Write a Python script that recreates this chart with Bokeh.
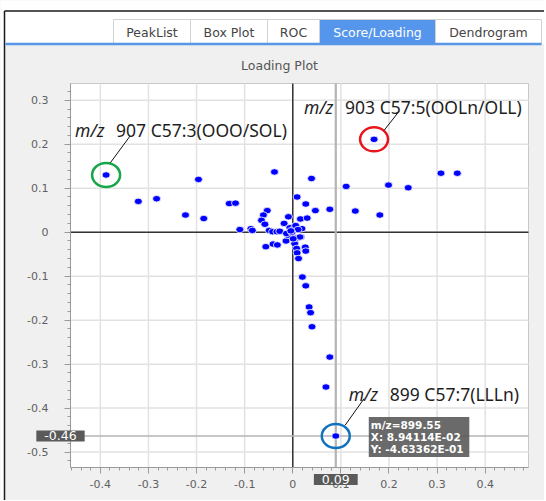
from bokeh.plotting import figure
from bokeh.models import Range1d, FixedTicker, Label, ColumnDataSource
from bokeh.embed import file_html
from bokeh.resources import INLINE
from bokeh.core.properties import value
import numpy as np

# ---------------- data ----------------
load_x = [-0.321, -0.283, -0.196, -0.223, -0.185, -0.132, -0.119, -0.110, -0.038, 0.039,
          0.111, 0.199, 0.240, 0.308, 0.342, 0.009, 0.027, 0.047, 0.077, 0.130,
          0.181, -0.053, -0.061, -0.065, -0.058, -0.087, -0.084, -0.009, -0.018, 0.016,
          0.030, 0.019, -0.049, -0.042, -0.033, -0.027, 0.017, -0.056, -0.041, -0.032,
          -0.014, 0.004, 0.026, 0.027, 0.008, 0.009, 0.012, 0.020, 0.027, 0.034,
          0.037, 0.040, 0.077, 0.069, -0.006, 0.001, 0.006, 0.011, -0.010, -0.013,
          0.008, 0.015, 0.001, -0.002, -0.004]
load_y = [0.070, 0.076, 0.120, 0.039, 0.031, 0.065, 0.066, 0.006, 0.137, 0.122,
          0.104, 0.107, 0.101, 0.134, 0.134, 0.080, 0.064, 0.049, 0.052, 0.048,
          0.039, 0.049, 0.039, 0.027, 0.018, 0.008, 0.004, 0.035, 0.020, 0.030,
          0.032, 0.008, 0.004, 0.001, 0.001, 0.002, -0.011, -0.033, -0.027, -0.029,
          -0.020, -0.026, -0.034, -0.043, -0.037, -0.047, -0.060, -0.102, -0.122, -0.170,
          -0.183, -0.215, -0.284, -0.352, 0.010, 0.006, 0.015, 0.006, -0.007, -0.003,
          -0.013, -0.011, -0.015, 0.000, 0.003]

hl_x = [-0.388, 0.169, 0.0894114]
hl_y = [0.130, 0.211, -0.463362]
hl_mz = ["907", "903", "899"]
hl_name = ["C57:3(OOO/SOL)", "C57:5(OOLn/OLL)", "C57:7(LLLn)"]
tooltip_mz = 899.55

x_ticks = [-0.4, -0.3, -0.2, -0.1, 0.0, 0.1, 0.2, 0.3, 0.4]
x_tick_labels = ["-0.4", "-0.3", "-0.2", "-0.1", "0", "0.1", "0.2", "0.3", "0.4"]
y_ticks = [-0.5, -0.4, -0.3, -0.2, -0.1, 0.0, 0.1, 0.2, 0.3]
y_tick_labels = ["-0.5", "-0.4", "-0.3", "-0.2", "-0.1", "0", "0.1", "0.2", "0.3"]

tab_names = ["PeakList", "Box Plot", "ROC", "Score/Loading", "Dendrogram"]
active_tab = "Score/Loading"
plot_title = "Loading Plot"

# ---------------- layout constants (page pixels) ----------------
X_START, X_END = -0.462, 0.490
Y_START, Y_END = -0.535, 0.338
CANVAS_L, CANVAS_T, CANVAS_W, CANVAS_H = 1, 0, 544, 500
PLOT_L, PLOT_R, PLOT_T, PLOT_B = 71, 529, 83, 467
SX = (PLOT_R - PLOT_L) / (X_END - X_START)
SY = (PLOT_B - PLOT_T) / (Y_END - Y_START)
TAB_EDGES = [114, 191, 268, 320, 436, 542]

FONT_TICK = "DejaVu Sans"
FONT_ANN = "Noto Sans"


def px2x(px):
    return X_START + (px - PLOT_L) / SX


def py2y(py):
    return Y_END - (py - PLOT_T) / SY


XL, XR = px2x(CANVAS_L), px2x(CANVAS_L + CANVAS_W)
YT, YB = py2y(CANVAS_T), py2y(CANVAS_T + CANVAS_H)

p = figure(width=CANVAS_W, height=CANVAS_H,
           x_range=Range1d(XL, XR), y_range=Range1d(YB, YT),
           output_backend="svg", toolbar_location=None,
           min_border=0, min_border_left=0, min_border_right=0,
           min_border_top=0, min_border_bottom=0,
           background_fill_color="#f0f0f0", border_fill_color="#f0f0f0",
           outline_line_color=None)
p.grid.visible = False

# ---------------- window frame and tabs ----------------
p.quad(left=[XL], right=[XR], top=[YT], bottom=[py2y(43.5)], fill_color="white", line_color=None)
p.quad(left=[XL], right=[px2x(5)], top=[YT], bottom=[YB], fill_color="white", line_color=None)
p.segment(x0=[px2x(5), px2x(5)], y0=[py2y(10.5), py2y(10.5)], x1=[XR, px2x(5)], y1=[py2y(10.5), YB],
          line_color="#1a1a1a", line_width=1.5)
lefts = [px2x(e) for e in TAB_EDGES[:-1]]
rights = [px2x(e) for e in TAB_EDGES[1:]]
fills = ["#5595ec" if t == active_tab else "white" for t in tab_names]
tcols = ["white" if t == active_tab else "#444444" for t in tab_names]
p.quad(left=lefts, right=rights, top=[py2y(19)] * 5, bottom=[py2y(43.5)] * 5,
       fill_color=fills, line_color="#d2d2d2", line_width=1)
p.text(x=[(a + b) / 2 for a, b in zip(lefts, rights)], y=[py2y(31.5)] * 5, text=tab_names,
       text_align="center", text_baseline="middle", text_color=tcols,
       text_font=value(FONT_TICK), text_font_size="12.5px")
p.segment(x0=[px2x(6)], y0=[py2y(43.5)], x1=[px2x(542)], y1=[py2y(43.5)],
          line_color="#5a96e8", line_width=2.5)

# title
p.add_layout(Label(x=px2x(280), y=py2y(65), text=plot_title,
                   text_font=FONT_TICK, text_font_size="12.5px", text_color="#555555",
                   text_align="center", text_baseline="middle"))

# ---------------- plot area ----------------
p.quad(left=[X_START], right=[X_END], top=[Y_END], bottom=[Y_START],
       fill_color="white", line_color="#c8c8c8", line_width=1)

# grid lines
p.segment(x0=x_ticks, y0=[Y_START] * len(x_ticks), x1=x_ticks, y1=[Y_END] * len(x_ticks),
          line_color="#e2e2e2", line_width=1.5)
p.segment(x0=[X_START] * len(y_ticks), y0=y_ticks, x1=[X_END] * len(y_ticks), y1=y_ticks,
          line_color="#e2e2e2", line_width=1.5)

# zero lines
p.segment(x0=[0, X_START], y0=[Y_START, 0], x1=[0, X_END], y1=[Y_END, 0],
          line_color="#333333", line_width=1.5)
# crosshair through the selected point
p.segment(x0=[hl_x[2]], y0=[Y_START], x1=[hl_x[2]], y1=[Y_END], line_color="#b4b4b4", line_width=2.2)
p.segment(x0=[X_START], y0=[hl_y[2]], x1=[X_END], y1=[hl_y[2]], line_color="#b4b4b4", line_width=1.5)

# axes
minor_x = [round(v, 3) for v in np.arange(-0.46, 0.4901, 0.02)]
minor_y = [round(v, 3) for v in np.arange(-0.52, 0.3301, 0.02)]
p.xaxis.ticker = FixedTicker(ticks=x_ticks, minor_ticks=minor_x)
p.yaxis.ticker = FixedTicker(ticks=y_ticks, minor_ticks=minor_y)
p.xaxis.major_label_overrides = {t: l for t, l in zip(x_ticks, x_tick_labels)}
p.yaxis.major_label_overrides = {t: l for t, l in zip(y_ticks, y_tick_labels)}
p.xaxis.fixed_location = Y_START
p.yaxis.fixed_location = X_START
p.xaxis.bounds = (X_START, X_END)
p.yaxis.bounds = (Y_START, Y_END)
for ax in (p.xaxis, p.yaxis):
    ax.axis_line_color = "#9a9a9a"
    ax.major_tick_line_color = "#9a9a9a"
    ax.minor_tick_line_color = "#9a9a9a"
    ax.major_tick_out = 6
    ax.major_tick_in = 0
    ax.minor_tick_out = 3
    ax.minor_tick_in = 0
    ax.major_label_text_font = FONT_TICK
    ax.major_label_text_font_size = "11px"
    ax.major_label_text_color = "#606060"
p.xaxis.major_label_standoff = 6
p.yaxis.major_label_standoff = 16
p.yaxis.major_label_text_align = "left"

# points
src = ColumnDataSource(dict(x=load_x + hl_x, y=load_y + hl_y))
p.ellipse(x="x", y="y", width=8, height=6.5, width_units="screen", height_units="screen",
          fill_color="#0000ff", line_color="white", line_width=0.8, source=src)

# highlight rings
ring_colors = ["#18a64a", "#e8151b", "#1372bd"]
p.ellipse(x=hl_x, y=hl_y, width=28, height=24, width_units="screen", height_units="screen",
          fill_color=None, line_color=ring_colors, line_width=2.5)

# connectors (pixel offsets from point: right, down)
conn = [((4.3, -12.3), (24, -39)), ((10, -9), (25, -28)), ((9.3, -10.7), (28.3, -37.4))]
x0 = [hx + a[0] / SX for hx, (a, b) in zip(hl_x, conn)]
y0 = [hy - a[1] / SY for hy, (a, b) in zip(hl_y, conn)]
x1 = [hx + b[0] / SX for hx, (a, b) in zip(hl_x, conn)]
y1 = [hy - b[1] / SY for hy, (a, b) in zip(hl_y, conn)]
p.segment(x0=x0, y0=y0, x1=x1, y1=y1, line_color="#111111", line_width=1)

# annotation texts: (x offset of "m/z", baseline height above point)
txt_off = [(-31, 45), (-70, 32), (13, 42)]
for hx, hy, mz, nm, (dx, dy) in zip(hl_x, hl_y, hl_mz, hl_name, txt_off):
    p.add_layout(Label(x=hx, y=hy, x_offset=dx, y_offset=dy, text="m/z",
                       text_font=FONT_ANN, text_font_style="italic", text_font_size="17.5px",
                       text_color="#1e1e1e", text_baseline="alphabetic", text_align="left"))
    p.add_layout(Label(x=hx, y=hy, x_offset=dx + 41, y_offset=dy, text=f"{mz} {nm}",
                       text_font=FONT_ANN, text_font_size="17.5px",
                       text_color="#1e1e1e", text_baseline="alphabetic", text_align="left"))

# tooltip
tip = f"m/z={tooltip_mz:.2f}\nX:  {hl_x[2]:.5E}\nY:  {hl_y[2]:.5E}"
p.add_layout(Label(x=hl_x[2], y=hl_y[2], x_offset=38, y_offset=15, text=tip,
                   text_font=FONT_TICK, text_font_size="10.5px", text_font_style="bold",
                   text_alpha=0, text_line_height=1.0, text_baseline="top", text_align="left",
                   background_fill_color="#000000", background_fill_alpha=0.3, padding=2))
p.add_layout(Label(x=hl_x[2], y=hl_y[2], x_offset=33, y_offset=19, text=tip,
                   text_font=FONT_TICK, text_font_size="10.5px", text_font_style="bold",
                   text_color="white", text_line_height=1.0, text_baseline="top", text_align="left",
                   background_fill_color="#555555", background_fill_alpha=0.88, padding=2))


# crosshair value labels
def axis_box(x, y, xo, yo, text):
    p.add_layout(Label(x=x, y=y, x_offset=xo + 7, y_offset=yo - 4, text=text,
                       text_font=FONT_TICK, text_font_size="12.5px", text_alpha=0,
                       text_align="center", text_baseline="middle",
                       background_fill_color="#222222", background_fill_alpha=0.55, padding=(8, 1)))
    p.add_layout(Label(x=x, y=y, x_offset=xo, y_offset=yo, text=text,
                       text_font=FONT_TICK, text_font_size="12.5px", text_color="white",
                       text_align="center", text_baseline="middle",
                       background_fill_color="#5a5a5a", background_fill_alpha=1.0, padding=(8, 1)))


axis_box(X_START, hl_y[2], -10, 0, f"{hl_y[2]:.2f}")
axis_box(hl_x[2], Y_START, 0, -12, f"{hl_x[2]:.2f}")

open("out.html", "w").write(file_html(p, INLINE))
